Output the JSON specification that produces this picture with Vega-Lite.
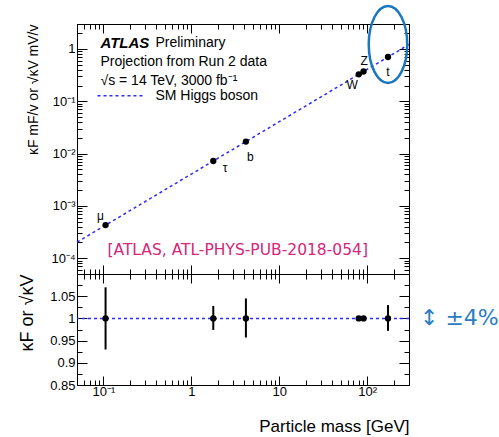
{
  "$schema": "https://vega.github.io/schema/vega-lite/v6.json",
  "background": "white",
  "padding": {"left": 18, "top": 0, "right": 0, "bottom": 0},
  "spacing": 0,
  "bounds": "flush",
  "config": {
    "font": "Liberation Sans",
    "view": {"stroke": "black", "strokeWidth": 1},
    "axis": {"domainColor": "black", "tickColor": "black", "labelColor": "black", "titleColor": "black", "labelFont": "Liberation Sans", "titleFont": "Liberation Sans", "titleFontWeight": "normal", "labelOverlap": false, "labelFlush": false, "grid": false}
  },
  "datasets": {
    "pts": [
      {"p": "μ", "m": 0.1057, "y": 0.00043, "r": 1, "lo": 0.93, "hi": 1.07, "lx": 0.0925, "ly": 0.00063},
      {"p": "τ", "m": 1.777, "y": 0.00722, "r": 1, "lo": 0.974, "hi": 1.028, "lx": 2.43, "ly": 0.0054},
      {"p": "b", "m": 4.18, "y": 0.0170, "r": 1, "lo": 0.957, "hi": 1.045, "lx": 4.68, "ly": 0.0088},
      {"p": "W", "m": 80.4, "y": 0.327, "r": 1, "lo": 0.998, "hi": 1.002, "lx": 67.6, "ly": 0.206},
      {"p": "Z", "m": 91.19, "y": 0.371, "r": 1, "lo": 0.998, "hi": 1.002, "lx": 92.5, "ly": 0.59},
      {"p": "t", "m": 173, "y": 0.703, "r": 1, "lo": 0.972, "hi": 1.030, "lx": 173, "ly": 0.365}
    ],
    "sm": [{"m": 0.05, "y": 0.000203}, {"m": 300, "y": 1.219}],
    "leg": [{"m": 0.0855, "y": 0.127}, {"m": 0.3, "y": 0.127}]
  },
  "vconcat": [
    {
      "width": 332,
      "height": 250,
      "resolve": {"axis": {"x": "independent", "y": "independent"}},
      "layer": [
        {
          "data": {"name": "sm"},
          "mark": {"type": "line", "color": "#2b2bff", "strokeWidth": 1.5, "strokeDash": [3, 3]},
          "encoding": {
            "x": {"field": "m", "type": "quantitative",
              "scale": {"type": "log", "domain": [0.05, 300], "nice": false},
              "axis": {"orient": "bottom", "labels": false, "title": null,
                "values": [0.05,0.06,0.07,0.08,0.09,0.1,0.2,0.3,0.4,0.5,0.6,0.7,0.8,0.9,1,2,3,4,5,6,7,8,9,10,20,30,40,50,60,70,80,90,100,200,300],
                "tickSize": {"condition": {"test": "abs(log(datum.value)/LN10 - round(log(datum.value)/LN10)) < 1e-6", "value": -9}, "value": -5}}},
            "y": {"field": "y", "type": "quantitative",
              "scale": {"type": "log", "domain": [0.00005, 3], "nice": false},
              "axis": {"orient": "left", "title": "κF mF/v or √κV mV/v", "titleFontSize": 14, "titleAnchor": "end", "titlePadding": 10,
                "labelFontSize": 13, "labelPadding": 12,
                "values": [0.00005,0.00006,0.00007,0.00008,0.00009,0.0001,0.0002,0.0003,0.0004,0.0005,0.0006,0.0007,0.0008,0.0009,0.001,0.002,0.003,0.004,0.005,0.006,0.007,0.008,0.009,0.01,0.02,0.03,0.04,0.05,0.06,0.07,0.08,0.09,0.1,0.2,0.3,0.4,0.5,0.6,0.7,0.8,0.9,1,2,3],
                "labelExpr": "datum.value == 1 ? '1' : datum.value == 0.1 ? '10⁻¹' : datum.value == 0.01 ? '10⁻²' : datum.value == 0.001 ? '10⁻³' : datum.value == 0.0001 ? '10⁻⁴' : ''",
                "tickSize": {"condition": {"test": "abs(log(datum.value)/LN10 - round(log(datum.value)/LN10)) < 1e-6", "value": -10}, "value": -5}}}
          }
        },
        {
          "data": {"name": "sm"},
          "mark": {"type": "line", "opacity": 0},
          "encoding": {
            "x": {"field": "m", "type": "quantitative",
              "axis": {"orient": "top", "labels": false, "title": null,
                "values": [0.05,0.06,0.07,0.08,0.09,0.1,0.2,0.3,0.4,0.5,0.6,0.7,0.8,0.9,1,2,3,4,5,6,7,8,9,10,20,30,40,50,60,70,80,90,100,200,300],
                "tickSize": {"condition": {"test": "abs(log(datum.value)/LN10 - round(log(datum.value)/LN10)) < 1e-6", "value": -9}, "value": -5}}},
            "y": {"field": "y", "type": "quantitative",
              "axis": {"orient": "right", "labels": false, "title": null,
                "values": [0.00005,0.00006,0.00007,0.00008,0.00009,0.0001,0.0002,0.0003,0.0004,0.0005,0.0006,0.0007,0.0008,0.0009,0.001,0.002,0.003,0.004,0.005,0.006,0.007,0.008,0.009,0.01,0.02,0.03,0.04,0.05,0.06,0.07,0.08,0.09,0.1,0.2,0.3,0.4,0.5,0.6,0.7,0.8,0.9,1,2,3],
                "tickSize": {"condition": {"test": "abs(log(datum.value)/LN10 - round(log(datum.value)/LN10)) < 1e-6", "value": -10}, "value": -5}}}
          }
        },
        {
          "data": {"name": "leg"},
          "mark": {"type": "line", "color": "#2b2bff", "strokeWidth": 1.5, "strokeDash": [3, 3]},
          "encoding": {
            "x": {"field": "m", "type": "quantitative", "axis": null},
            "y": {"field": "y", "type": "quantitative", "axis": null}
          }
        },
        {
          "data": {"name": "pts"},
          "mark": {"type": "point", "filled": true, "color": "black", "opacity": 1, "size": 40},
          "encoding": {
            "x": {"field": "m", "type": "quantitative", "axis": null},
            "y": {"field": "y", "type": "quantitative", "axis": null}
          }
        },
        {
          "data": {"name": "pts"},
          "mark": {"type": "text", "color": "black", "fontSize": 12, "align": "center", "baseline": "middle"},
          "encoding": {
            "x": {"field": "lx", "type": "quantitative", "axis": null},
            "y": {"field": "ly", "type": "quantitative", "axis": null},
            "text": {"field": "p"}
          }
        },
        {
          "data": {"values": [{"t": "ATLAS", "x": 0.0925, "y": 1.30}]},
          "mark": {"type": "text", "align": "left", "baseline": "middle", "fontSize": 15, "fontWeight": "bold", "fontStyle": "italic", "color": "black"},
          "encoding": {"x": {"field": "x", "type": "quantitative", "axis": null}, "y": {"field": "y", "type": "quantitative", "axis": null}, "text": {"field": "t"}}
        },
        {
          "data": {"values": [
            {"t": "Preliminary", "x": 0.39, "y": 1.30},
            {"t": "Projection from Run 2 data", "x": 0.0925, "y": 0.565},
            {"t": "√s = 14 TeV, 3000 fb⁻¹", "x": 0.0925, "y": 0.246},
            {"t": "SM Higgs boson", "x": 0.39, "y": 0.127}
          ]},
          "mark": {"type": "text", "align": "left", "baseline": "middle", "fontSize": 14, "color": "black"},
          "encoding": {"x": {"field": "x", "type": "quantitative", "axis": null}, "y": {"field": "y", "type": "quantitative", "axis": null}, "text": {"field": "t"}}
        },
        {
          "data": {"values": [{"t": "[ATLAS, ATL-PHYS-PUB-2018-054]", "x": 0.111, "y": 0.000142}]},
          "mark": {"type": "text", "align": "left", "baseline": "middle", "fontSize": 15.5, "font": "DejaVu Sans", "color": "#d4267a"},
          "encoding": {"x": {"field": "x", "type": "quantitative", "axis": null}, "y": {"field": "y", "type": "quantitative", "axis": null}, "text": {"field": "t"}}
        },
        {
          "data": {"values": [{"x": 173, "y": 1.22}]},
          "mark": {"type": "point", "shape": "M 0 -1 A 0.5 1 0 1 1 0 1 A 0.5 1 0 1 1 0 -1 Z", "size": 5929, "filled": false, "stroke": "#1a76c0", "strokeWidth": 2.5, "opacity": 1},
          "encoding": {"x": {"field": "x", "type": "quantitative", "axis": null}, "y": {"field": "y", "type": "quantitative", "axis": null}}
        }
      ]
    },
    {
      "width": 332,
      "height": 111,
      "resolve": {"axis": {"x": "independent", "y": "independent"}},
      "layer": [
        {
          "data": {"name": "pts"},
          "mark": {"type": "rule", "color": "black", "strokeWidth": 2},
          "encoding": {
            "x": {"field": "m", "type": "quantitative",
              "scale": {"type": "log", "domain": [0.05, 300], "nice": false},
              "axis": {"orient": "bottom", "title": "Particle mass [GeV]", "titleFontSize": 17, "titleAnchor": "end", "titlePadding": 16,
                "labelFontSize": 13, "labelPadding": 9,
                "values": [0.05,0.06,0.07,0.08,0.09,0.1,0.2,0.3,0.4,0.5,0.6,0.7,0.8,0.9,1,2,3,4,5,6,7,8,9,10,20,30,40,50,60,70,80,90,100,200,300],
                "labelExpr": "datum.value == 0.1 ? '10⁻¹' : datum.value == 1 ? '1' : datum.value == 10 ? '10' : datum.value == 100 ? '10²' : ''",
                "tickSize": {"condition": {"test": "abs(log(datum.value)/LN10 - round(log(datum.value)/LN10)) < 1e-6", "value": -9}, "value": -5}}},
            "y": {"field": "lo", "type": "quantitative",
              "scale": {"domain": [0.85, 1.1], "nice": false, "zero": false},
              "axis": {"orient": "left", "title": "κF or √κV", "titleFontSize": 18, "titleAnchor": "end", "titlePadding": 13,
                "labelFontSize": 13, "labelPadding": 12,
                "values": [0.85,0.875,0.9,0.925,0.95,0.975,1,1.025,1.05,1.075],
                "labelExpr": "datum.value == 0.85 ? '0.85' : datum.value == 0.9 ? '0.9' : datum.value == 0.95 ? '0.95' : datum.value == 1 ? '1' : datum.value == 1.05 ? '1.05' : ''",
                "tickSize": {"condition": {"test": "abs(datum.value*20 - round(datum.value*20)) < 1e-6", "value": -10}, "value": -5}}},
            "y2": {"field": "hi"}
          }
        },
        {
          "data": {"values": [{"r": 1}]},
          "mark": {"type": "rule", "color": "#2b2bff", "strokeWidth": 1.5, "strokeDash": [3, 3]},
          "encoding": {"y": {"field": "r", "type": "quantitative", "axis": null}}
        },
        {
          "data": {"name": "pts"},
          "mark": {"type": "point", "filled": true, "color": "black", "opacity": 1, "size": 40},
          "encoding": {
            "x": {"field": "m", "type": "quantitative",
              "axis": {"orient": "top", "labels": false, "title": null,
                "values": [0.05,0.06,0.07,0.08,0.09,0.1,0.2,0.3,0.4,0.5,0.6,0.7,0.8,0.9,1,2,3,4,5,6,7,8,9,10,20,30,40,50,60,70,80,90,100,200,300],
                "tickSize": {"condition": {"test": "abs(log(datum.value)/LN10 - round(log(datum.value)/LN10)) < 1e-6", "value": -9}, "value": -5}}},
            "y": {"field": "r", "type": "quantitative",
              "axis": {"orient": "right", "labels": false, "title": null,
                "values": [0.85,0.875,0.9,0.925,0.95,0.975,1,1.025,1.05,1.075],
                "tickSize": {"condition": {"test": "abs(datum.value*20 - round(datum.value*20)) < 1e-6", "value": -10}, "value": -5}}}
          }
        },
        {
          "data": {"values": [{"t": "↕ ±4%", "x": 400, "y": 1}]},
          "mark": {"type": "text", "align": "left", "baseline": "middle", "fontSize": 22, "font": "DejaVu Sans", "color": "#2a7cc4"},
          "encoding": {"x": {"field": "x", "type": "quantitative", "axis": null}, "y": {"field": "y", "type": "quantitative", "axis": null}, "text": {"field": "t"}}
        }
      ]
    }
  ]
}
